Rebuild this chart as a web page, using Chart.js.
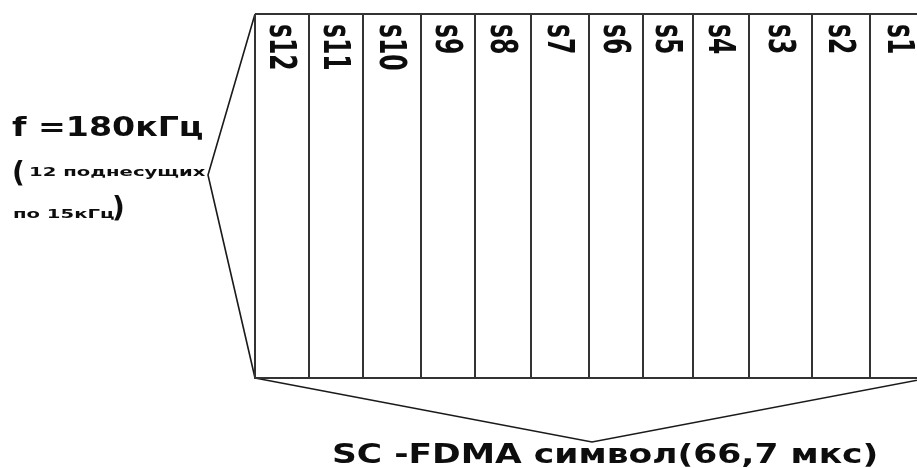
<!DOCTYPE html>
<html><head><meta charset="utf-8">
<script src="https://cdn.jsdelivr.net/npm/chart.js@4.4.0/dist/chart.umd.min.js"></script>
<style>html,body{margin:0;padding:0;background:#fff;overflow:hidden}canvas{display:block}</style>
</head><body>
<canvas id="c" width="917" height="468"></canvas>
<script>
// ---- data ----
const symbols = ['s12','s11','s10','s9','s8','s7','s6','s5','s4','s3','s2','s1'];
const symbolWidths = [54,54,58,54,56,58,54,50,56,63,58,59];
const symbolHeight = [364];
const bandwidthLabel = 'f =180кГц';
const bandwidthNote = ['12 поднесущих', 'по 15кГц'];
const durationLabel = 'SC -FDMA символ(66,7 мкс)';

// ---- derived geometry (from data) ----
const H = symbolHeight[0];
const edges = [0];
symbolWidths.forEach(w => edges.push(edges[edges.length - 1] + w));
const W = edges[edges.length - 1];

// layout (bracket tips, text anchors) in the same units as the data
const layout = {
  freqTip: { x: -47, y: 161 },
  timeDepth: 64,
  labelTop: 10
};

const lineStyle = { showLine: true, pointRadius: 0, pointHoverRadius: 0, tension: 0, fill: false };
const datasets = [];
datasets.push(Object.assign({
  data: [{x:0,y:0},{x:W,y:0},{x:W,y:H},{x:0,y:H},{x:0,y:0}],
  borderColor: '#333', borderWidth: 2
}, lineStyle));
edges.slice(1, -1).forEach(e => datasets.push(Object.assign({
  data: [{x:e,y:0},{x:e,y:H}], borderColor: '#333', borderWidth: 2
}, lineStyle)));
datasets.push(Object.assign({
  data: [{x:0,y:0}, layout.freqTip, {x:0,y:H}], borderColor: '#1a1a1a', borderWidth: 1.6
}, lineStyle));
datasets.push(Object.assign({
  data: [{x:0,y:H}, {x:W/2,y:H + layout.timeDepth}, {x:W,y:H}], borderColor: '#1a1a1a', borderWidth: 1.4
}, lineStyle));

function txt(ctx, s, px, py, font, sx, rot, align) {
  ctx.save();
  ctx.translate(px, py);
  ctx.scale(sx, 1);
  if (rot) ctx.rotate(Math.PI / 2);
  ctx.font = font;
  ctx.fillStyle = '#0d0d0d';
  ctx.textAlign = align || 'left';
  ctx.textBaseline = 'alphabetic';
  ctx.fillText(s, 0, 0);
  ctx.restore();
}

const textPlugin = {
  id: 'texts',
  afterDraw(chart) {
    const ctx = chart.ctx, xs = chart.scales.x, ys = chart.scales.y;
    const X = v => xs.getPixelForValue(v), Y = v => ys.getPixelForValue(v);
    const B = '"DejaVu Sans"';
    // column labels
    symbols.forEach((s, i) => {
      const c = X((edges[i] + edges[i + 1]) / 2);
      txt(ctx, s, c - 12, Y(layout.labelTop), 'bold 23.5px ' + B, 1.6, true);
    });
    txt(ctx, bandwidthLabel, X(-243), Y(122), 'bold 27px ' + B, 1.23);
    txt(ctx, '(', X(-243), Y(168), 'bold 28px ' + B, 1.0);
    txt(ctx, bandwidthNote[0], X(-226), Y(161.5), 'bold 12.5px ' + B, 1.57);
    txt(ctx, bandwidthNote[1], X(-242), Y(203.5), 'bold 12.5px ' + B, 1.57);
    txt(ctx, ')', X(-143), Y(203), 'bold 28px ' + B, 1.0);
    txt(ctx, durationLabel, X(77), Y(449), 'bold 27.4px ' + B, 1.26);
  }
};

new Chart(document.getElementById('c'), {
  type: 'scatter',
  data: { datasets },
  options: {
    responsive: false,
    animation: false,
    layout: { padding: 0 },
    plugins: { legend: { display: false }, tooltip: { enabled: false } },
    scales: {
      x: { type: 'linear', min: -255, max: 662, display: false },
      y: { type: 'linear', min: -14, max: 454, reverse: true, display: false }
    }
  },
  plugins: [textPlugin]
});
</script>
</body></html>
